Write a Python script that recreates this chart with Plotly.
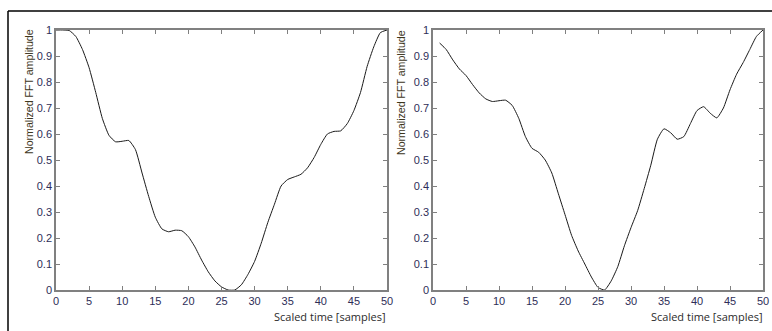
import plotly.graph_objects as go

x_left = list(range(0, 51))
y_left = [1.0, 1.0, 0.998, 0.975, 0.925, 0.855, 0.76, 0.66, 0.595, 0.57,
          0.572, 0.575, 0.54, 0.45, 0.36, 0.28, 0.235, 0.224, 0.23, 0.228,
          0.205, 0.165, 0.115, 0.07, 0.035, 0.012, 0.0, 0.0, 0.02, 0.06,
          0.11, 0.18, 0.26, 0.33, 0.40, 0.425, 0.435, 0.445, 0.47, 0.51,
          0.56, 0.60, 0.61, 0.612, 0.64, 0.69, 0.76, 0.86, 0.935, 0.99, 1.0]

x_right = list(range(1, 51))
y_right = [0.95, 0.925, 0.885, 0.85, 0.825, 0.79, 0.758, 0.735, 0.725, 0.728,
           0.73, 0.71, 0.66, 0.59, 0.545, 0.53, 0.50, 0.45, 0.37, 0.29,
           0.21, 0.15, 0.10, 0.05, 0.01, 0.0, 0.035, 0.09, 0.17, 0.24,
           0.305, 0.39, 0.48, 0.58, 0.62, 0.605, 0.58, 0.59, 0.64, 0.69,
           0.705, 0.68, 0.662, 0.70, 0.77, 0.83, 0.875, 0.925, 0.975, 1.0]

x_ticks = [0, 5, 10, 15, 20, 25, 30, 35, 40, 45, 50]
y_ticks = [0, 0.1, 0.2, 0.3, 0.4, 0.5, 0.6, 0.7, 0.8, 0.9, 1]
y_tick_text = ["0", "0.1", "0.2", "0.3", "0.4", "0.5", "0.6", "0.7", "0.8", "0.9", "1"]

x_title = "Scaled time [samples]"
y_title = "Normalized FFT amplitude"

W, H = 772, 331
def px(x):
    return x / W
def py(y):
    return 1 - y / H

fig = go.Figure()
line_style = dict(color="#1a1a1a", width=1, shape="spline", smoothing=0.5)
fig.add_trace(go.Scatter(x=x_left, y=y_left, mode="lines", line=line_style,
                         xaxis="x", yaxis="y", showlegend=False, hoverinfo="skip"))
fig.add_trace(go.Scatter(x=x_right, y=y_right, mode="lines", line=line_style,
                         xaxis="x2", yaxis="y2", showlegend=False, hoverinfo="skip"))

tick_font = dict(family="Liberation Sans, Arial, sans-serif", size=11, color="#2e2e58")
axis_common = dict(showgrid=False, zeroline=False, showline=True, linecolor="#808080",
                   linewidth=1.5, mirror="allticks", ticks="inside", ticklen=4,
                   tickcolor="#808080", tickwidth=1, tickfont=tick_font, automargin=False)

ydom = [py(290), py(30)]
fig.update_layout(
    template="none",
    width=W, height=H,
    margin=dict(l=0, r=0, t=0, b=0, autoexpand=False),
    paper_bgcolor="white", plot_bgcolor="white",
    xaxis=dict(domain=[px(56), px(387)], range=[0, 50], tickvals=x_ticks,
               anchor="y", **axis_common),
    yaxis=dict(domain=ydom, range=[0, 1], tickvals=y_ticks, ticktext=y_tick_text,
               anchor="x", **axis_common),
    xaxis2=dict(domain=[px(433), px(763)], range=[0, 50], tickvals=x_ticks,
                anchor="y2", **axis_common),
    yaxis2=dict(domain=ydom, range=[0, 1], tickvals=y_ticks, ticktext=y_tick_text,
                anchor="x2", **axis_common),
)

label_font = dict(family="Open Sans, Noto Sans, sans-serif", size=11, color="#2b2b2b")
ylabel_font = dict(family="Liberation Sans, Arial, sans-serif", size=10.6, color="#3d361c")
annotations = []
for xr in [388, 765]:
    annotations.append(dict(text=x_title, x=px(xr), y=py(316), xref="paper", yref="paper",
                            xanchor="right", yanchor="middle", showarrow=False, font=label_font))
for xc in [29, 401]:
    annotations.append(dict(text=y_title, x=px(xc), y=py(92), xref="paper", yref="paper",
                            xanchor="center", yanchor="middle", textangle=-90,
                            showarrow=False, font=ylabel_font))
fig.update_layout(annotations=annotations)

fig.update_layout(shapes=[
    dict(type="line", xref="paper", yref="paper", x0=px(8), x1=1.0, y0=py(11), y1=py(11),
         line=dict(color="black", width=1.5)),
    dict(type="line", xref="paper", yref="paper", x0=px(8), x1=px(8), y0=py(11), y1=0,
         line=dict(color="black", width=1.5)),
])

fig.write_html("out.html", config={"displayModeBar": False},
               post_script="document.body.style.margin='0';document.body.style.overflow='hidden';")
